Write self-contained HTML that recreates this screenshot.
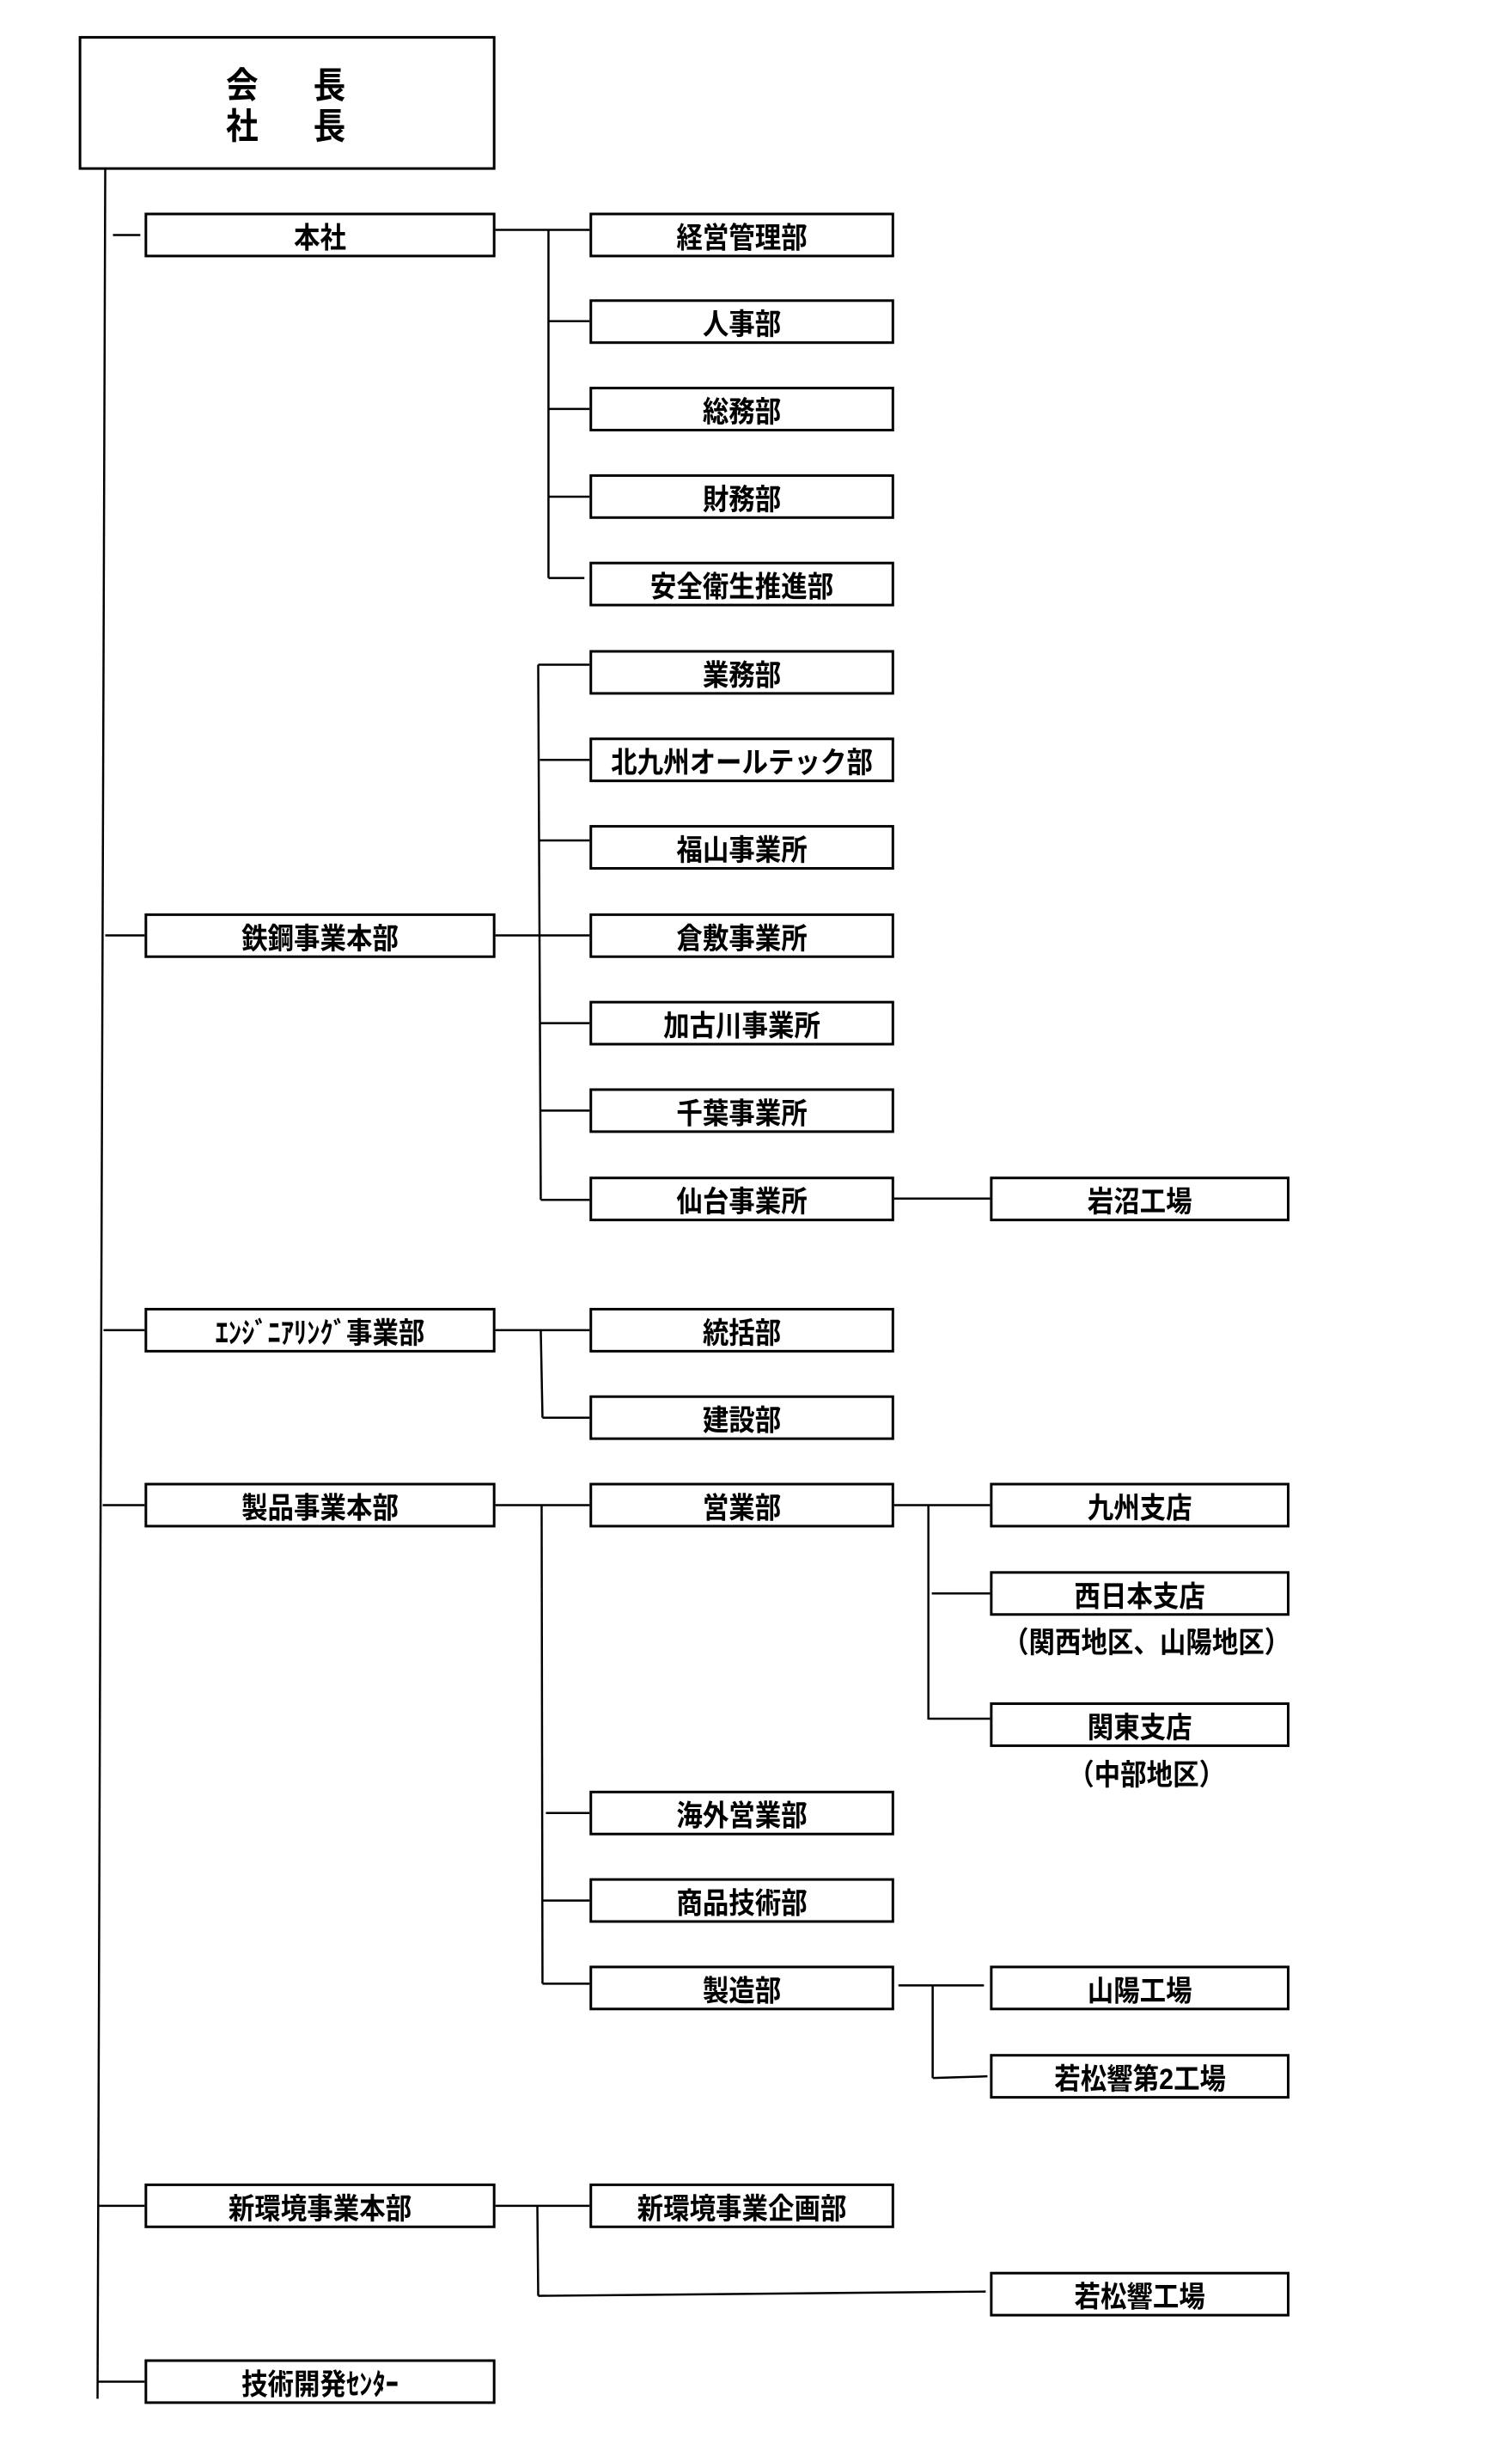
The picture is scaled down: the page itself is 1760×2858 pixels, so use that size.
<!DOCTYPE html>
<html><head><meta charset="utf-8"><style>
body{margin:0;background:#fff;width:1760px;height:2858px;position:relative;overflow:hidden;font-family:"Liberation Sans","Noto Sans CJK JP",sans-serif;}
#w{position:absolute;left:0;top:0;width:1760px;height:2858px;transform:scale(0.996,0.998);transform-origin:0 0;}
.b{position:absolute;box-sizing:border-box;border:3px solid #000;height:52px;display:flex;align-items:center;justify-content:center;font-size:34px;font-weight:bold;color:#000;white-space:nowrap;}
.b span{display:inline-block;transform:scaleX(0.9);}
.l1{left:169px;width:410px}
.l2{left:689px;width:356px}
.l3{left:1157px;width:350px}
.t{position:absolute;font-size:34px;font-weight:bold;white-space:nowrap;transform:translateX(-50%) scaleX(0.9);}
svg{position:absolute;left:0;top:0}
</style></head><body><div id="w">
<svg width="1760" height="2858" stroke="#000" stroke-width="2.5" fill="none">
<line x1="123" y1="197" x2="114" y2="2797"/>
<line x1="132" y1="274" x2="164" y2="274"/>
<line x1="123" y1="1090.7" x2="169" y2="1090.7"/>
<line x1="121" y1="1551" x2="169" y2="1551"/>
<line x1="120" y1="1755" x2="169" y2="1755"/>
<line x1="116" y1="2572" x2="169" y2="2572"/>
<line x1="115" y1="2777" x2="169" y2="2777"/>
<line x1="579" y1="268" x2="689" y2="268"/>
<line x1="641" y1="268" x2="641" y2="674"/>
<line x1="641" y1="374.5" x2="689" y2="374.5"/>
<line x1="641" y1="476.8" x2="689" y2="476.8"/>
<line x1="641" y1="579.1" x2="689" y2="579.1"/>
<line x1="641" y1="674" x2="683" y2="674"/>
<line x1="579" y1="1090.7" x2="689" y2="1090.7"/>
<line x1="629" y1="775" x2="632" y2="1399"/>
<line x1="629" y1="775" x2="689" y2="775"/>
<line x1="631" y1="886" x2="689" y2="886"/>
<line x1="631" y1="980" x2="689" y2="980"/>
<line x1="632" y1="1193" x2="689" y2="1193"/>
<line x1="632" y1="1295" x2="689" y2="1295"/>
<line x1="632" y1="1399" x2="689" y2="1399"/>
<line x1="1045" y1="1397.6" x2="1157" y2="1397.6"/>
<line x1="579" y1="1551" x2="689" y2="1551"/>
<line x1="632" y1="1551" x2="634" y2="1653"/>
<line x1="634" y1="1653" x2="689" y2="1653"/>
<line x1="579" y1="1755" x2="689" y2="1755"/>
<line x1="633" y1="1755" x2="634" y2="2313"/>
<line x1="638" y1="2114" x2="689" y2="2114"/>
<line x1="634" y1="2216" x2="689" y2="2216"/>
<line x1="634" y1="2313" x2="689" y2="2313"/>
<line x1="1045" y1="1755" x2="1157" y2="1755"/>
<line x1="1085" y1="1755" x2="1085" y2="2005"/>
<line x1="1089" y1="1858" x2="1157" y2="1858"/>
<line x1="1085" y1="2004" x2="1157" y2="2004"/>
<line x1="1050" y1="2315" x2="1150" y2="2315"/>
<line x1="1090" y1="2315" x2="1090" y2="2423"/>
<line x1="1090" y1="2423" x2="1154" y2="2421"/>
<line x1="579" y1="2572" x2="689" y2="2572"/>
<line x1="628" y1="2572" x2="629" y2="2677"/>
<line x1="629" y1="2677" x2="1152" y2="2672"/>
</svg>
<div class="b" style="left:92px;top:42px;width:487px;height:156px;"></div>
<div class="t" style="left:283px;top:66px;font-size:42px">会</div>
<div class="t" style="left:385px;top:66px;font-size:42px">長</div>
<div class="t" style="left:283px;top:114px;font-size:42px">社</div>
<div class="t" style="left:385px;top:114px;font-size:42px">長</div>
<div class="b l1" style="top:248px"><span>本社</span></div>
<div class="b l1" style="top:1065px"><span>鉄鋼事業本部</span></div>
<div class="b l1" style="top:1525px"><span>ｴﾝｼﾞﾆｱﾘﾝｸﾞ事業部</span></div>
<div class="b l1" style="top:1729px"><span>製品事業本部</span></div>
<div class="b l1" style="top:2546px"><span>新環境事業本部</span></div>
<div class="b l1" style="top:2751px"><span>技術開発ｾﾝﾀｰ</span></div>
<div class="b l2" style="top:248px"><span>経営管理部</span></div>
<div class="b l2" style="top:349px"><span>人事部</span></div>
<div class="b l2" style="top:451px"><span>総務部</span></div>
<div class="b l2" style="top:553px"><span>財務部</span></div>
<div class="b l2" style="top:655px"><span>安全衛生推進部</span></div>
<div class="b l2" style="top:758px"><span>業務部</span></div>
<div class="b l2" style="top:860px"><span>北九州オールテック部</span></div>
<div class="b l2" style="top:962px"><span>福山事業所</span></div>
<div class="b l2" style="top:1065px"><span>倉敷事業所</span></div>
<div class="b l2" style="top:1167px"><span>加古川事業所</span></div>
<div class="b l2" style="top:1269px"><span>千葉事業所</span></div>
<div class="b l2" style="top:1372px"><span>仙台事業所</span></div>
<div class="b l2" style="top:1525px"><span>統括部</span></div>
<div class="b l2" style="top:1627px"><span>建設部</span></div>
<div class="b l2" style="top:1729px"><span>営業部</span></div>
<div class="b l2" style="top:2088px"><span>海外営業部</span></div>
<div class="b l2" style="top:2190px"><span>商品技術部</span></div>
<div class="b l2" style="top:2292px"><span>製造部</span></div>
<div class="b l2" style="top:2546px"><span>新環境事業企画部</span></div>
<div class="b l3" style="top:1372px"><span>岩沼工場</span></div>
<div class="b l3" style="top:1729px"><span>九州支店</span></div>
<div class="b l3" style="top:1832px"><span>西日本支店</span></div>
<div class="b l3" style="top:1985px"><span>関東支店</span></div>
<div class="b l3" style="top:2292px"><span>山陽工場</span></div>
<div class="b l3" style="top:2395px"><span>若松響第2工場</span></div>
<div class="b l3" style="top:2649px"><span>若松響工場</span></div>
<div class="t" style="left:1340px;top:1888px">（関西地区、山陽地区）</div>
<div class="t" style="left:1340px;top:2042px">（中部地区）</div>
</div></body></html>
